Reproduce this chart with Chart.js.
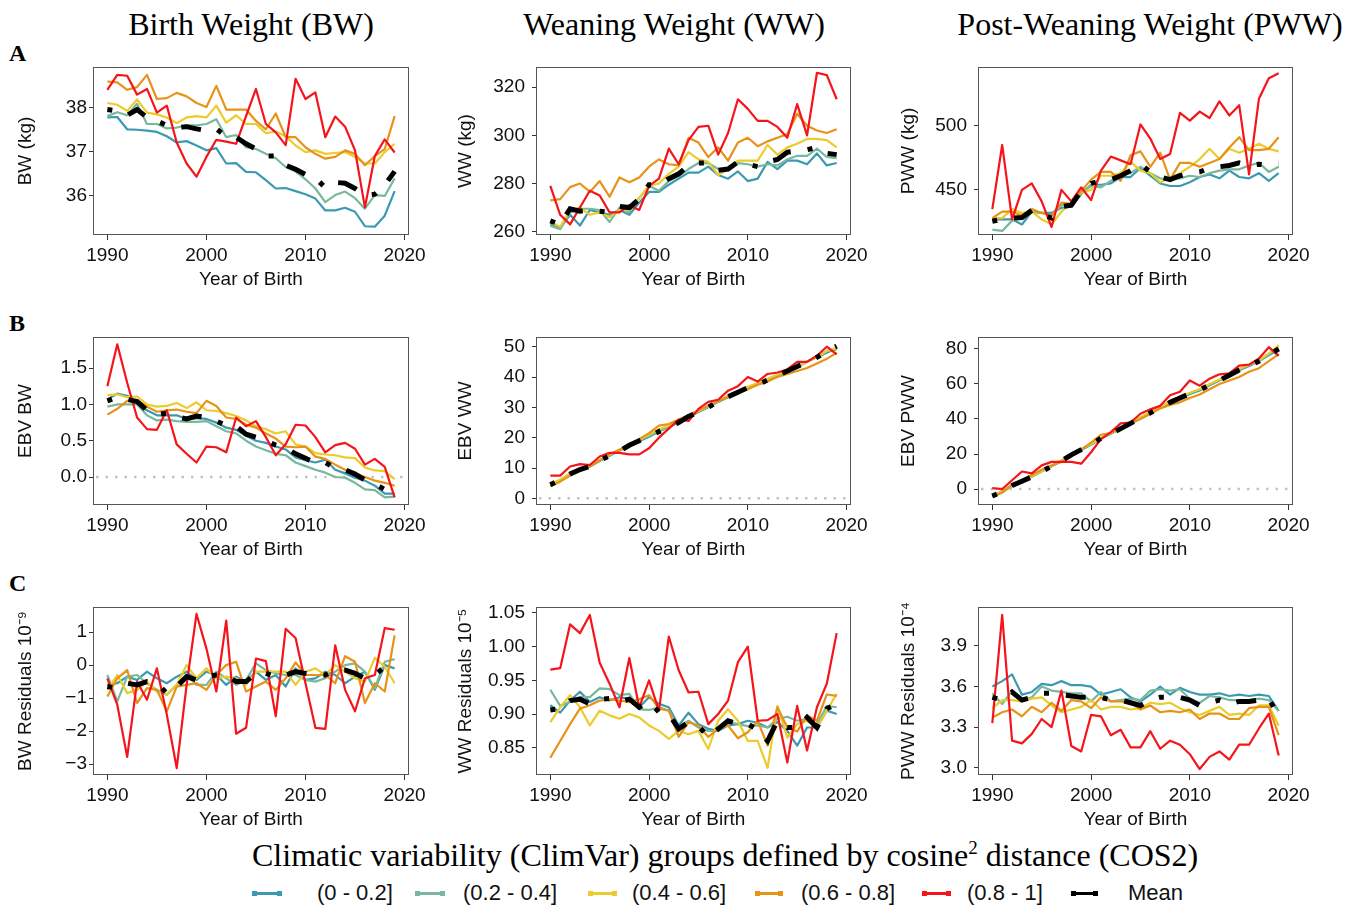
<!DOCTYPE html>
<html>
<head>
<meta charset="utf-8">
<script src="https://cdn.jsdelivr.net/npm/chart.js@4.4.1/dist/chart.umd.min.js"></script>
<style>
  body { margin: 0; background: #fff; width: 1361px; height: 909px; position: relative; overflow: hidden;
         font-family: "Liberation Sans", Arial, sans-serif; color: #111; }
  canvas { position: absolute; }
  .serif { position: absolute; font-family: "Liberation Serif", "Times New Roman", serif; white-space: nowrap; color: #000; }
  .coltitle { font-size: 32px; transform: translateX(-50%); top: 6px; }
  .letter { font-size: 24px; font-weight: bold; left: 9px; }
  .lgtitle { font-size: 32px; left: 252px; top: 837px; }
  .sw { position: absolute; height: 3px; top: 892px; }
  .sw::before, .sw::after { content: ""; position: absolute; top: -1px; width: 5px; height: 5px; background: inherit; }
  .sw::before { left: 0; } .sw::after { right: 0; }
  .lt { position: absolute; font-size: 22px; top: 880px; white-space: nowrap; }
</style>
</head>
<body>
<div class="serif coltitle" style="left:251px">Birth Weight (BW)</div>
<div class="serif coltitle" style="left:674px">Weaning Weight (WW)</div>
<div class="serif coltitle" style="left:1150px">Post-Weaning Weight (PWW)</div>
<div class="serif letter" style="top:40px">A</div>
<div class="serif letter" style="top:310px">B</div>
<div class="serif letter" style="top:570px">C</div>
<div class="serif lgtitle">Climatic variability (ClimVar) groups defined by cosine<sup style="font-size:19px">2</sup> distance (COS2)</div>
<div id="legend"></div>

<script>
// years of birth
const years = [1990,1991,1992,1993,1994,1995,1996,1997,1998,1999,2000,2001,2002,2003,2004,
               2005,2006,2007,2008,2009,2010,2011,2012,2013,2014,2015,2016,2017,2018,2019];

const groupLabels = ['(0 - 0.2]', '(0.2 - 0.4]', '(0.4 - 0.6]', '(0.6 - 0.8]', '(0.8 - 1]', 'Mean'];
const groupColors = ['#3B9AB2', '#78B89C', '#EBCC2A', '#E69318', '#F5141A', '#000000'];
const xTicks = [1990, 2000, 2010, 2020];

// A: phenotypes
const BW_g1 = [37.78,37.79,37.51,37.50,37.48,37.45,37.35,37.21,37.24,37.14,37.03,37.08,36.73,36.74,36.54,36.53,36.35,36.16,36.17,36.10,36.03,35.93,35.66,35.66,35.72,35.63,35.30,35.29,35.54,36.10];
const BW_g2 = [37.81,37.90,37.83,38.09,37.63,37.63,37.53,37.55,37.60,37.60,37.63,37.74,37.33,37.38,37.10,37.06,36.95,36.85,36.65,36.55,36.37,36.16,35.85,36.01,36.09,35.94,35.70,36.01,35.99,36.39];
const BW_g3 = [38.11,38.07,37.93,38.19,37.89,37.85,37.78,37.65,37.78,37.81,37.78,38.05,37.66,37.83,37.63,37.63,37.42,37.46,37.35,37.14,36.99,37.03,36.95,36.97,36.99,36.88,36.73,36.73,36.99,37.18];
const BW_g4 = [38.60,38.58,38.41,38.47,38.75,38.20,38.22,38.34,38.26,38.11,38.02,38.50,37.96,37.96,37.96,37.70,37.51,37.87,37.33,37.33,37.10,36.95,36.84,36.88,37.03,36.95,36.69,36.90,37.06,37.81];
const BW_g5 = [38.41,38.75,38.73,38.30,38.43,37.89,38.05,37.21,36.73,36.43,36.88,37.27,37.23,37.18,37.81,38.43,37.63,37.44,37.15,38.66,38.20,38.35,37.33,37.80,37.57,37.03,35.73,36.90,37.28,36.98];
const BW_mean = [37.96,37.93,37.83,37.96,37.78,37.70,37.60,37.55,37.57,37.52,37.48,37.52,37.35,37.33,37.18,37.06,36.90,36.90,36.69,36.60,36.48,36.40,36.18,36.30,36.28,36.16,36.01,36.03,36.24,36.55];

const WW_g1 = [263,261.5,267,262.5,269,268,267,269,267,272,276.5,276.5,279.5,282,284.5,284.5,287,283.5,282,285,281,282,289,286,289.5,289.5,288,292.5,287.5,288.5];
const WW_g2 = [262.5,261,268,269.5,269.5,269,264,270,268,274,279,277,281,283,286,288.5,288.5,286,286,288.5,288,287,288,287.5,290,291.5,291.5,294.5,291,290.5];
const WW_g3 = [264,262,269,270,267,268,266,269,269,274,279,280,284,287,293,290,289,283.5,286,289.5,289.5,289.5,296,292,295,296.5,298.5,298.5,298,295];
const WW_g4 = [273,273.5,278.5,280,276.5,281,274.5,282.5,280.5,282.5,287,290,288,287.5,299,297,291,295,289.5,297,299,295.5,297.5,299,300.5,309,304,302,301,302.5];
const WW_g5 = [279,267,263,270,277,275,268,268,271,269,279,282,294.5,288,298,303.5,304,292,301,315,311,306,306,303.5,299,313,300,326,325,315];
const WW_mean = [264.5,263,269.5,268.5,269,268.5,268,270.5,270,273.5,279.5,279.5,282,284,287.5,288.5,288.5,285.5,286,289,288,287,289,290,293,293.5,294,295,292.5,292];

const PWW_g1 = [427,427,427,423,433,432,432,436,437,447,454,454,455,460,460,467,461,455,453,453,456,460,462,459,465,460,459,463,457,463];
const PWW_g2 = [419,418,426,428,433,432,430,438,439,448,453,452,457,461,463,468,463,459,458,459,461,460,463,465,466,466,469,471,464,468];
const PWW_g3 = [428,428,435,432,433,427,423,433,440,448,450,461,461,463,472,465,463,456,459,463,468,474,482,474,482,479,482,486,482,480];
const PWW_g4 = [428,433,433,430,435,432,430,440,439,449,458,464,464,457,477,480,468,479,458,471,471,468,471,474,483,491,481,481,482,491];
const PWW_g5 = [435,485,427,450,455,441,421,450,441,452,442,465,476,473,470,501,490,474,478,510,504,511,506,519,508,516,462,521,537,541];
const PWW_mean = [425.5,427,428,428.5,434,431,428,437,438,449,455,457,458,461,465,470,464,460,458,461,463,464,467,468,469,471,469,470,469,470];

// B: breeding values
const EBVBW_g1 = [1.07,1.15,1.12,1.02,0.92,0.85,0.85,0.85,0.80,0.81,0.80,0.75,0.68,0.65,0.57,0.50,0.47,0.42,0.38,0.27,0.23,0.20,0.24,0.10,0.05,-0.01,-0.05,-0.12,-0.23,-0.23];
const EBVBW_g2 = [0.97,1.00,1.00,1.00,0.85,0.78,0.79,0.77,0.76,0.76,0.77,0.70,0.63,0.60,0.50,0.42,0.37,0.32,0.30,0.20,0.15,0.10,0.06,0.00,-0.01,-0.08,-0.17,-0.18,-0.28,-0.27];
const EBVBW_g3 = [1.13,1.14,1.10,1.11,1.00,0.97,0.98,1.02,0.95,1.03,0.92,0.91,0.88,0.84,0.78,0.70,0.66,0.60,0.63,0.45,0.42,0.33,0.31,0.30,0.27,0.26,0.13,0.09,0.08,-0.03];
const EBVBW_g4 = [0.86,0.94,1.05,1.06,0.97,0.90,0.92,0.93,0.90,0.88,1.05,0.98,0.82,0.80,0.72,0.68,0.60,0.53,0.42,0.41,0.42,0.28,0.25,0.17,0.10,0.05,0.00,-0.05,-0.08,-0.12];
const EBVBW_g5 = [1.25,1.83,1.30,0.82,0.66,0.65,0.92,0.45,0.32,0.20,0.42,0.41,0.34,0.82,0.70,0.77,0.55,0.30,0.45,0.72,0.71,0.55,0.34,0.44,0.47,0.39,0.17,0.25,0.14,-0.28];
const EBVBW_mean = [1.05,1.10,1.07,1.04,0.92,0.86,0.88,0.83,0.80,0.84,0.82,0.77,0.71,0.70,0.59,0.55,0.50,0.44,0.40,0.32,0.26,0.19,0.20,0.12,0.10,0.04,-0.04,-0.10,-0.17,-0.23];

const EBVWW_g1 = [4.3,5.8,7.8,9.3,10.5,12.3,14.0,15.8,17.3,18.8,20.3,22.0,23.5,25.0,26.8,28.5,30.0,31.8,33.3,35.0,36.3,37.5,39.0,40.5,41.8,43.3,45.0,46.5,48.0,49.5];
const EBVWW_g2 = [4.6,6.0,8.2,9.5,10.6,12.6,14.2,15.8,17.6,19.2,20.6,22.2,23.6,25.2,27.0,28.6,30.2,32.0,33.6,35.0,36.6,37.6,39.2,40.6,42.0,43.6,45.2,46.8,48.6,49.0];
const EBVWW_g3 = [4.5,6.2,8.0,9.6,11.0,12.6,14.4,16.0,17.6,19.2,21.0,22.8,24.0,25.6,27.2,28.8,30.4,32.2,33.8,35.4,36.8,38.0,39.4,40.8,42.2,43.6,45.0,46.6,48.6,49.6];
const EBVWW_g4 = [4.0,5.5,7.5,9.0,10.5,12.5,14.5,16.0,17.5,19.5,21.5,24.0,24.5,26.0,27.5,29.0,30.5,32.0,33.5,35.0,36.0,37.5,38.5,40.0,41.0,42.0,43.0,44.5,46.0,48.0];
const EBVWW_g5 = [7.5,7.5,10.5,11.3,11.0,13.8,15.0,15.0,14.5,14.5,16.5,20.0,23.0,26.0,25.5,29.5,31.8,32.5,35.5,37.0,40.0,38.5,41.0,41.5,42.5,45.0,45.0,47.0,50.0,47.5];
const EBVWW_mean = [4.5,6.0,8.0,9.5,10.5,12.5,14.0,15.5,17.5,19.0,20.5,22.0,23.5,25.0,27.0,28.5,30.0,32.0,33.5,35.0,36.5,37.5,39.0,40.5,42.0,43.5,45.0,46.5,48.5,50.2];

const EBVPWW_g1 = [-4.2,-1.8,1.8,4.3,7.0,10.0,13.0,16.2,19.5,22.3,25.3,28.8,31.5,34.5,37.3,40.3,43.3,46.3,49.3,51.8,54.3,56.3,59.3,62.0,65.0,67.8,70.3,73.0,76.3,79.5];
const EBVPWW_g2 = [-3.8,-1.3,2.2,4.8,7.2,10.3,13.3,16.3,19.8,22.8,25.7,29.2,31.7,34.7,37.7,40.7,43.7,46.7,49.7,52.2,54.7,56.8,59.7,62.3,65.2,68.2,70.8,73.3,76.7,80.5];
const EBVPWW_g3 = [-4.0,-1.5,2.0,4.8,7.3,10.2,13.2,16.2,19.7,22.7,25.7,29.3,31.8,34.8,37.8,40.8,43.8,47.0,50.0,52.5,55.0,57.0,60.0,62.5,65.5,68.5,71.0,73.5,77.5,82.0];
const EBVPWW_g4 = [-4.5,-2.0,2.5,5.0,8.0,11.0,13.5,15.5,19.0,22.5,26.5,31.0,32.0,35.0,37.5,40.0,43.0,46.0,48.0,49.5,52.0,54.0,57.0,60.0,62.0,64.0,67.0,69.0,73.0,77.0];
const EBVPWW_g5 = [0.5,0.0,5.0,10.0,9.0,13.5,15.5,15.5,15.5,14.5,21.0,28.5,32.5,37.5,38.0,43.0,45.5,47.5,53.5,55.5,62.0,59.0,63.0,65.5,66.0,70.5,71.0,74.5,81.0,76.0];
const EBVPWW_mean = [-4.0,-1.5,2.0,4.5,7.0,10.0,13.0,16.0,19.5,22.5,25.5,29.0,31.5,34.5,37.5,40.5,43.5,46.5,49.5,52.0,54.5,56.5,59.5,62.0,65.0,68.0,70.5,73.0,76.5,80.0];

// C: residuals
const RBW_g1 = [-0.60,-0.55,-0.35,-0.45,-0.20,-0.40,-0.55,-0.35,-0.20,-0.45,-0.20,-0.30,-0.60,-0.35,-0.50,-0.20,-0.45,-0.30,-0.65,-0.10,-0.45,-0.40,-0.20,-0.30,-0.55,-0.35,-0.20,-0.75,0.00,-0.10];
const RBW_g2 = [-0.30,-1.10,-0.35,-0.30,-0.55,-0.75,-0.90,-0.60,-0.30,-0.60,-0.60,-0.20,-0.40,-0.60,-0.45,0.05,-0.15,-0.25,-0.30,-0.30,-0.45,-0.50,-0.40,-0.20,0.00,0.05,-0.20,-0.70,0.10,0.18];
const RBW_g3 = [-0.75,-0.30,-0.85,-0.75,-0.50,-0.80,-0.90,-0.60,0.00,-0.40,-0.10,-0.40,-0.35,-0.40,-0.60,-0.20,-0.20,-0.20,-0.20,-0.60,-0.20,-0.10,-0.30,0.00,-0.20,-0.40,-0.50,0.22,-0.05,-0.55];
const RBW_g4 = [-0.95,-0.40,-0.15,-1.15,-0.70,-0.75,-1.40,-0.65,-0.60,-0.55,-0.75,-0.30,0.00,0.10,-0.80,-0.65,-0.50,-0.75,-0.40,0.08,-0.30,-0.30,-0.30,-0.55,0.27,0.10,-1.15,-0.55,-0.80,0.90];
const RBW_g5 = [-0.40,-1.20,-2.78,-0.50,-1.05,-0.10,-1.50,-3.12,-0.60,1.55,0.50,-0.80,1.35,-2.08,-1.90,0.20,0.12,-1.55,1.10,0.82,-0.55,-1.90,-1.93,0.60,-0.75,-1.40,-0.40,-0.30,1.12,1.07];
const RBW_mean = [-0.65,-0.70,-0.55,-0.60,-0.50,-0.55,-0.85,-0.65,-0.35,-0.45,-0.35,-0.30,-0.30,-0.50,-0.50,-0.25,-0.25,-0.35,-0.30,-0.20,-0.25,-0.30,-0.30,-0.15,-0.15,-0.25,-0.40,-0.30,-0.05,-0.05];

const RWW_g1 = [0.913,0.902,0.920,0.933,0.918,0.925,0.920,0.925,0.922,0.910,0.925,0.915,0.910,0.883,0.902,0.885,0.878,0.875,0.883,0.885,0.890,0.887,0.880,0.888,0.875,0.853,0.880,0.880,0.905,0.900];
const RWW_g2 = [0.936,0.912,0.918,0.925,0.925,0.938,0.937,0.928,0.930,0.907,0.906,0.910,0.905,0.880,0.890,0.880,0.875,0.875,0.888,0.885,0.882,0.883,0.880,0.893,0.896,0.890,0.893,0.885,0.912,0.910];
const RWW_g3 = [0.888,0.910,0.928,0.910,0.883,0.905,0.898,0.893,0.900,0.895,0.883,0.875,0.863,0.875,0.870,0.875,0.848,0.890,0.907,0.890,0.860,0.860,0.820,0.912,0.865,0.885,0.890,0.880,0.905,0.930];
const RWW_g4 = [0.835,0.860,0.885,0.908,0.913,0.920,0.922,0.920,0.918,0.922,0.928,0.908,0.905,0.866,0.888,0.883,0.866,0.878,0.883,0.864,0.873,0.890,0.853,0.910,0.880,0.874,0.898,0.890,0.929,0.927];
const RWW_g5 = [0.966,0.968,1.033,1.020,1.047,0.976,0.945,0.910,0.983,0.910,0.950,0.905,1.015,0.965,0.932,0.933,0.885,0.900,0.920,0.977,1.000,0.890,0.891,0.900,0.828,0.912,0.846,0.910,0.945,1.020];
const RWW_mean = [0.906,0.908,0.920,0.922,0.915,0.922,0.923,0.918,0.922,0.910,0.918,0.903,0.900,0.878,0.888,0.882,0.866,0.878,0.890,0.885,0.885,0.877,0.860,0.890,0.880,0.880,0.895,0.880,0.908,0.915];

const RPWW_g1 = [3.60,3.64,3.69,3.54,3.56,3.62,3.61,3.64,3.61,3.61,3.60,3.54,3.56,3.58,3.52,3.49,3.54,3.60,3.54,3.59,3.56,3.54,3.54,3.55,3.53,3.54,3.53,3.54,3.53,3.42];
const RPWW_g2 = [3.55,3.47,3.57,3.50,3.52,3.60,3.57,3.56,3.55,3.55,3.49,3.56,3.49,3.50,3.51,3.50,3.57,3.58,3.57,3.58,3.51,3.48,3.53,3.52,3.50,3.50,3.50,3.51,3.50,3.42];
const RPWW_g3 = [3.44,3.50,3.50,3.49,3.51,3.52,3.46,3.41,3.43,3.45,3.50,3.43,3.45,3.45,3.43,3.44,3.48,3.47,3.48,3.44,3.41,3.39,3.42,3.45,3.39,3.40,3.39,3.46,3.46,3.31];
const RPWW_g4 = [3.37,3.41,3.43,3.38,3.45,3.41,3.48,3.42,3.50,3.49,3.44,3.52,3.49,3.49,3.48,3.43,3.46,3.41,3.42,3.41,3.43,3.36,3.40,3.40,3.36,3.36,3.44,3.45,3.45,3.24];
const RPWW_g5 = [3.33,4.13,3.20,3.18,3.25,3.36,3.30,3.57,3.16,3.12,3.39,3.38,3.24,3.28,3.15,3.15,3.27,3.14,3.20,3.17,3.10,2.99,3.08,3.12,3.06,3.17,3.17,3.29,3.40,3.09];
const RPWW_mean = [3.52,3.50,3.56,3.50,3.52,3.55,3.55,3.54,3.53,3.52,3.52,3.52,3.50,3.50,3.48,3.46,3.50,3.52,3.52,3.52,3.50,3.46,3.48,3.50,3.47,3.49,3.49,3.50,3.51,3.38];

// y-axis settings per panel
const panels = [
  { row: 0, col: 0, title: 'BW (kg)', series: [BW_g1, BW_g2, BW_g3, BW_g4, BW_g5, BW_mean], min: 35.1, max: 38.93, ticks: [36, 37, 38], dec: 0 },
  { row: 0, col: 1, title: 'WW (kg)', series: [WW_g1, WW_g2, WW_g3, WW_g4, WW_g5, WW_mean], min: 258.6, max: 328.4, ticks: [260, 280, 300, 320], dec: 0 },
  { row: 0, col: 2, title: 'PWW (kg)', series: [PWW_g1, PWW_g2, PWW_g3, PWW_g4, PWW_g5, PWW_mean], min: 414.8, max: 545.8, ticks: [450, 500], dec: 0 },
  { row: 1, col: 0, title: 'EBV BW', series: [EBVBW_g1, EBVBW_g2, EBVBW_g3, EBVBW_g4, EBVBW_g5, EBVBW_mean], min: -0.386, max: 1.93, ticks: [0, 0.5, 1, 1.5], dec: 1, zero: true },
  { row: 1, col: 1, title: 'EBV WW', series: [EBVWW_g1, EBVWW_g2, EBVWW_g3, EBVWW_g4, EBVWW_g5, EBVWW_mean], min: -2.2, max: 53.2, ticks: [0, 10, 20, 30, 40, 50], dec: 0, zero: true },
  { row: 1, col: 2, title: 'EBV PWW', series: [EBVPWW_g1, EBVPWW_g2, EBVPWW_g3, EBVPWW_g4, EBVPWW_g5, EBVPWW_mean], min: -9.1, max: 86.8, ticks: [0, 20, 40, 60, 80], dec: 0, zero: true },
  { row: 2, col: 0, title: 'BW Residuals 10\u207B\u2079', series: [RBW_g1, RBW_g2, RBW_g3, RBW_g4, RBW_g5, RBW_mean], min: -3.33, max: 1.76, ticks: [-3, -2, -1, 0, 1], dec: 0 },
  { row: 2, col: 1, title: 'WW Residuals 10\u207B\u2075', series: [RWW_g1, RWW_g2, RWW_g3, RWW_g4, RWW_g5, RWW_mean], min: 0.8095, max: 1.0588, ticks: [0.85, 0.9, 0.95, 1.0, 1.05], dec: 2 },
  { row: 2, col: 2, title: 'PWW Residuals 10\u207B\u2074', series: [RPWW_g1, RPWW_g2, RPWW_g3, RPWW_g4, RPWW_g5, RPWW_mean], min: 2.946, max: 4.188, ticks: [3.0, 3.3, 3.6, 3.9], dec: 1 }
];

// layout of the 3x3 grid (plot boxes)
const cols = [
  { x: 0,   w: 440, axisW: 93, padR: 31, titlePad: 14, tickPad: 2 },
  { x: 440, w: 440, axisW: 96, padR: 29, titlePad: 14, tickPad: 7 },
  { x: 880, w: 481, axisW: 98, padR: 68, titlePad: 17, tickPad: 7 }
];
const plotTops = [67, 337, 607];
const PAD_TOP = 22;      // must exceed half a tick label + tick padding
const PLOT_H = 168;
const XAXIS_H = 60;
const FONT = '"Liberation Sans", Arial, sans-serif';

const boxPlugin = {
  id: 'panelBox',
  beforeDatasetsDraw(chart, args, opts) {
    if (!opts.zero) return;
    const { ctx, chartArea } = chart;
    const y = chart.scales.y.getPixelForValue(0);
    ctx.save();
    ctx.strokeStyle = '#c4c4c4';
    ctx.lineWidth = 2.5;
    ctx.setLineDash([2.5, 7]);
    ctx.beginPath();
    ctx.moveTo(chartArea.left + 3, y);
    ctx.lineTo(chartArea.right, y);
    ctx.stroke();
    ctx.restore();
  },
  afterDraw(chart) {
    const { ctx, chartArea } = chart;
    ctx.save();
    ctx.strokeStyle = '#555';
    ctx.lineWidth = 1;
    ctx.strokeRect(chartArea.left + 0.5, chartArea.top + 0.5, chartArea.width - 1, chartArea.height - 1);
    ctx.restore();
  }
};

function fmt(v, dec) {
  const s = Math.abs(v).toFixed(dec);
  return v < 0 ? '\u2212' + s : s;
}

function makePanel(p) {
  const c = cols[p.col];
  const canvas = document.createElement('canvas');
  canvas.width = c.w;
  canvas.height = PAD_TOP + PLOT_H + XAXIS_H;
  canvas.style.left = c.x + 'px';
  canvas.style.top = (plotTops[p.row] - PAD_TOP) + 'px';
  document.body.appendChild(canvas);

  const datasets = p.series.map((vals, i) => {
    const isMean = i === 5;
    return {
      label: groupLabels[i],
      data: years.map((yr, k) => ({ x: yr, y: vals[k] })),
      borderColor: groupColors[i],
      borderWidth: isMean ? 5 : 2.2,
      borderDash: isMean ? [5, 17, 20, 17] : [],
      borderCapStyle: 'butt',
      borderJoinStyle: isMean ? 'miter' : 'round',
      pointRadius: 0,
      tension: 0,
      order: isMean ? 0 : 5 - i
    };
  });

  new Chart(canvas, {
    type: 'line',
    data: { datasets },
    plugins: [boxPlugin],
    options: {
      responsive: false,
      animation: false,
      devicePixelRatio: 1,
      layout: { padding: { left: 0, top: PAD_TOP, right: c.padR, bottom: 0 } },
      plugins: { legend: { display: false }, tooltip: { enabled: false }, panelBox: { zero: !!p.zero } },
      scales: {
        x: {
          type: 'linear', min: 1988.55, max: 2020.45,
          afterBuildTicks: s => { s.ticks = xTicks.map(v => ({ value: v })); },
          afterFit: s => { s.height = XAXIS_H; },
          ticks: { callback: v => String(v), color: '#111', font: { family: FONT, size: 19 }, padding: 4, maxRotation: 0, autoSkip: false },
          grid: { drawOnChartArea: false, drawTicks: true, tickLength: 5, color: '#333' },
          border: { display: false },
          title: { display: true, text: 'Year of Birth', color: '#111', font: { family: FONT, size: 19 }, padding: { top: 0, bottom: 4 } }
        },
        y: {
          type: 'linear', min: p.min, max: p.max,
          afterBuildTicks: s => { s.ticks = p.ticks.map(v => ({ value: v })); },
          afterFit: s => { s.width = c.axisW; },
          ticks: { callback: v => fmt(v, p.dec), color: '#111', font: { family: FONT, size: 19 }, padding: c.tickPad, autoSkip: false },
          grid: { drawOnChartArea: false, drawTicks: true, tickLength: 4, color: '#333' },
          border: { display: false },
          title: { display: true, text: p.title, color: '#111', font: { family: FONT, size: 19 }, padding: { top: c.titlePad, bottom: 0 } }
        }
      }
    }
  });
}

panels.forEach(makePanel);

// legend row
const legendPos = [
  { sw: 252, w: 30, tx: 317 },
  { sw: 415, w: 30, tx: 463 },
  { sw: 588, w: 29, tx: 632 },
  { sw: 755, w: 28, tx: 801 },
  { sw: 922, w: 29, tx: 967 },
  { sw: 1071, w: 27, tx: 1128 }
];
const legend = document.getElementById('legend');
groupLabels.forEach((lab, i) => {
  const sw = document.createElement('div');
  sw.className = 'sw';
  sw.style.left = legendPos[i].sw + 'px';
  sw.style.width = legendPos[i].w + 'px';
  sw.style.background = groupColors[i];
  legend.appendChild(sw);
  const t = document.createElement('div');
  t.className = 'lt';
  t.style.left = legendPos[i].tx + 'px';
  t.textContent = lab;
  legend.appendChild(t);
});
</script>
</body>
</html>
